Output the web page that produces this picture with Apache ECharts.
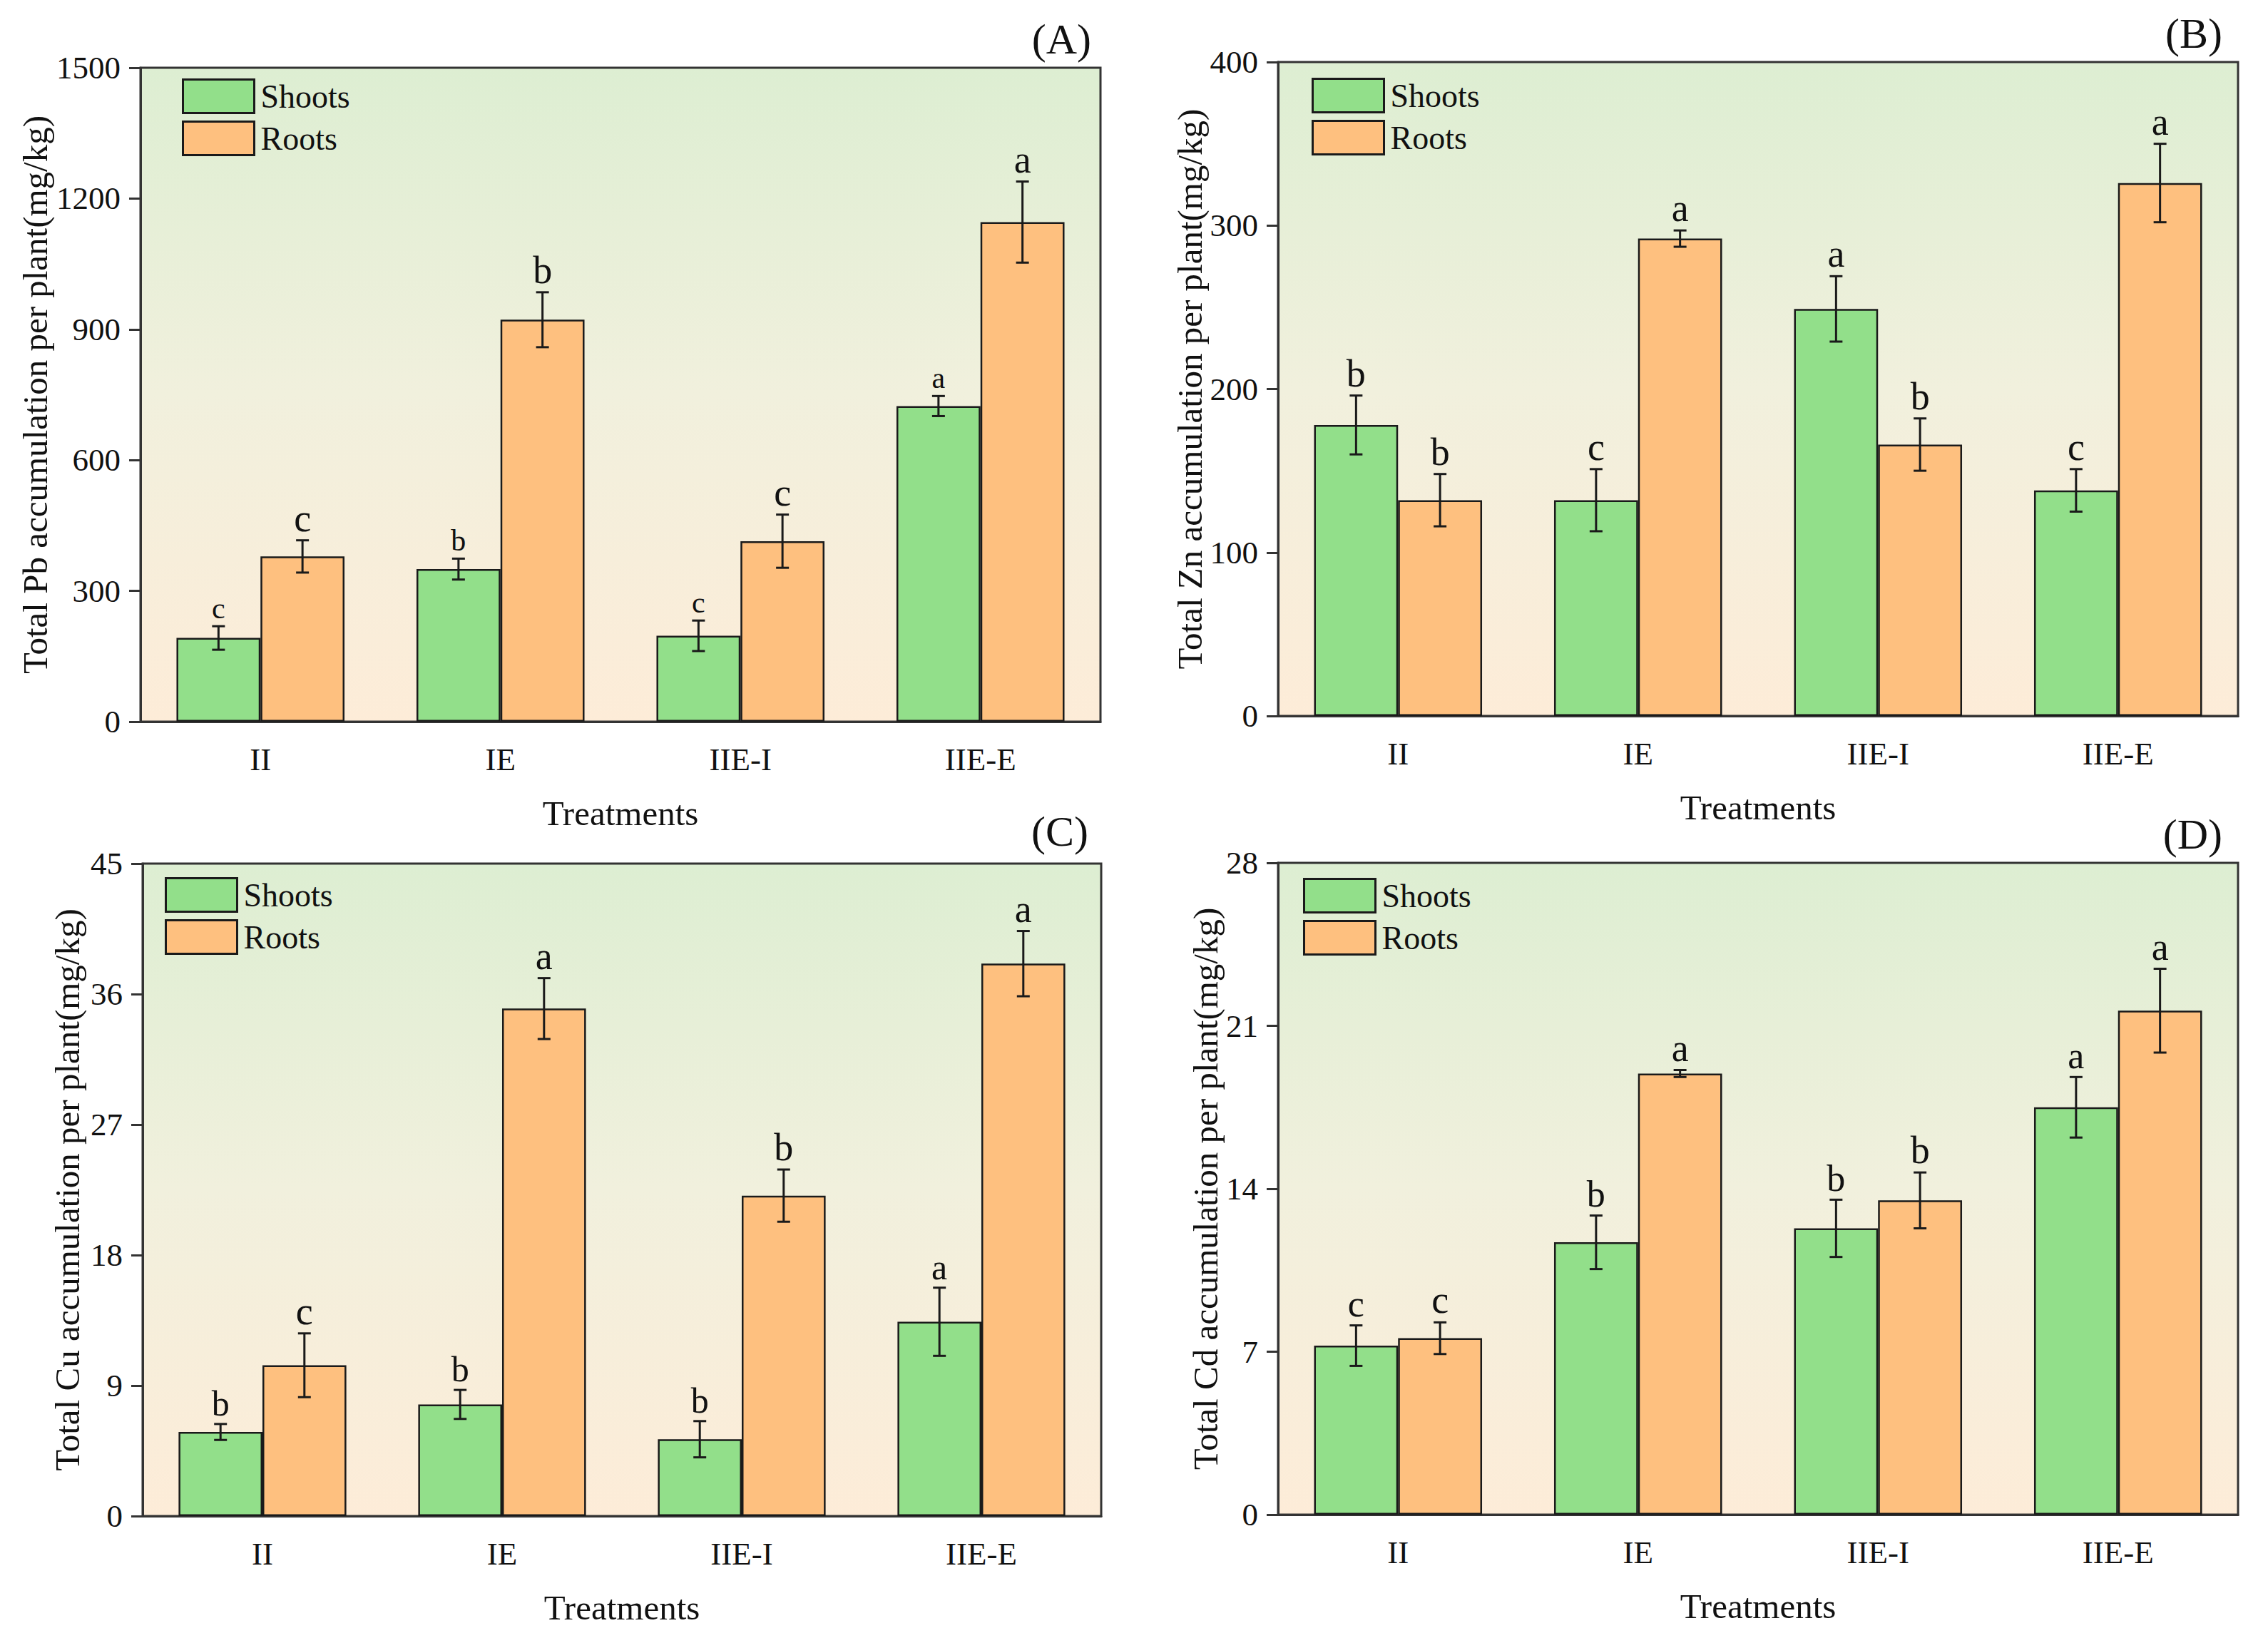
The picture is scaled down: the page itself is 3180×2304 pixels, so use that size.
<!DOCTYPE html>
<html>
<head>
<meta charset="utf-8">
<script src="https://cdn.jsdelivr.net/npm/echarts@6/dist/echarts.min.js"></script>
<style>
  html, body { margin: 0; padding: 0; background: #fff; }
  #chart { width: 3180px; height: 2304px; }
</style>
</head>
<body>
<div id="chart"></div>
<script>
var categories = ['II', 'IE', 'IIE-I', 'IIE-E'];

// (A) Pb
var pbShoots = [192, 350, 197, 724];
var pbShootsErr = [27, 24, 35, 23];
var pbShootsSig = ['c', 'b', 'c', 'a'];
var pbRoots = [379, 922, 414, 1146];
var pbRootsErr = [37, 63, 61, 93];
var pbRootsSig = ['c', 'b', 'c', 'a'];

// (B) Zn
var znShoots = [178, 132, 249, 138];
var znShootsErr = [18, 19, 20, 13];
var znShootsSig = ['b', 'c', 'a', 'c'];
var znRoots = [132, 292, 166, 326];
var znRootsErr = [16, 5, 16, 24];
var znRootsSig = ['b', 'a', 'b', 'a'];

// (C) Cu
var cuShoots = [5.8, 7.7, 5.3, 13.4];
var cuShootsErr = [0.55, 1.0, 1.25, 2.35];
var cuShootsSig = ['b', 'b', 'b', 'a'];
var cuRoots = [10.4, 35.0, 22.1, 38.1];
var cuRootsErr = [2.2, 2.1, 1.8, 2.25];
var cuRootsSig = ['c', 'a', 'b', 'a'];

// (D) Cd
var cdShoots = [7.26, 11.7, 12.3, 17.5];
var cdShootsErr = [0.87, 1.15, 1.23, 1.3];
var cdShootsSig = ['c', 'b', 'b', 'a'];
var cdRoots = [7.58, 18.95, 13.5, 21.65];
var cdRootsErr = [0.68, 0.15, 1.2, 1.8];
var cdRootsSig = ['c', 'a', 'b', 'a'];

var yNames = [
    'Total Pb accumulation per plant(mg/kg)',
    'Total Zn accumulation per plant(mg/kg)',
    'Total Cu accumulation per plant(mg/kg)',
    'Total Cd accumulation per plant(mg/kg)'
];
var yMax = [1500, 400, 45, 28];
var yStep = [300, 100, 9, 7];
var panelTags = ['(A)', '(B)', '(C)', '(D)'];

var FONT = "'Liberation Serif', 'Times New Roman', 'DejaVu Serif', serif";
var GREEN = '#92df8a';
var ORANGE = '#fec07f';

var panels = [
    {shoots: pbShoots, se: pbShootsErr, ss: pbShootsSig, roots: pbRoots, re: pbRootsErr, rs: pbRootsSig, shootFont: 42},
    {shoots: znShoots, se: znShootsErr, ss: znShootsSig, roots: znRoots, re: znRootsErr, rs: znRootsSig, shootFont: 54},
    {shoots: cuShoots, se: cuShootsErr, ss: cuShootsSig, roots: cuRoots, re: cuRootsErr, rs: cuRootsSig, shootFont: 50},
    {shoots: cdShoots, se: cdShootsErr, ss: cdShootsSig, roots: cdRoots, re: cdRootsErr, rs: cdRootsSig, shootFont: 52}
];

// plot rectangles: left, top, right, bottom (px)
var rects = [
    [197, 95, 1543, 1012],
    [1792, 87, 3138, 1004],
    [200, 1211, 1544, 2126],
    [1792, 1210, 3138, 2124]
];
var nameGaps = [123, 91, 81, 71];
var legendPos = [[250, 105], [1834, 104], [226, 1225], [1822, 1226]];
var tagPos = [[1530, 57], [3116, 49], [1526, 1168], [3116, 1172]];

function errRender(side, letters, fontSize) {
    return function (params, api) {
        var x = api.value(0), v = api.value(1), e = api.value(2);
        var c = api.coord([x, v]);
        var top = api.coord([x, v + e])[1];
        var bot = api.coord([x, v - e])[1];
        var bw = api.size([1, 0])[0];
        var cx = c[0] + side * bw * 0.175;
        var cap = 9;
        var st = {stroke: '#1a1a1a', lineWidth: 3};
        return {
            type: 'group',
            children: [
                {type: 'line', shape: {x1: cx, y1: top, x2: cx, y2: bot}, style: st},
                {type: 'line', shape: {x1: cx - cap, y1: top, x2: cx + cap, y2: top}, style: st},
                {type: 'line', shape: {x1: cx - cap, y1: bot, x2: cx + cap, y2: bot}, style: st},
                {type: 'text', style: {
                    text: letters[params.dataIndex], x: cx, y: top - 4,
                    align: 'center', verticalAlign: 'bottom',
                    fontFamily: FONT, fontSize: fontSize, fill: '#111'
                }}
            ]
        };
    };
}

var grids = [], xAxes = [], yAxes = [], series = [], legends = [], graphics = [];

panels.forEach(function (p, i) {
    var r = rects[i];
    grids.push({
        left: r[0], top: r[1], width: r[2] - r[0], height: r[3] - r[1],
        show: true,
        borderColor: '#333', borderWidth: 3,
        backgroundColor: {
            type: 'linear', x: 0, y: 0, x2: 0, y2: 1,
            colorStops: [
                {offset: 0, color: '#ddeed2'},
                {offset: 0.5, color: '#f1f0dd'},
                {offset: 1, color: '#fdecd8'}
            ]
        }
    });
    xAxes.push({
        gridIndex: i, type: 'category', data: categories,
        name: 'Treatments', nameLocation: 'middle', nameGap: 104,
        nameTextStyle: {fontFamily: FONT, fontSize: 49, color: '#111'},
        axisLine: {lineStyle: {color: '#333', width: 3}},
        axisTick: {alignWithLabel: true, length: 18, lineStyle: {color: '#333', width: 3}},
        axisLabel: {fontFamily: FONT, fontSize: 45, color: '#111', margin: 30}
    });
    yAxes.push({
        gridIndex: i, type: 'value', min: 0, max: yMax[i], interval: yStep[i],
        name: yNames[i], nameLocation: 'middle', nameGap: nameGaps[i],
        nameTextStyle: {fontFamily: FONT, fontSize: 49, color: '#111'},
        axisLine: {show: true, lineStyle: {color: '#333', width: 3}},
        axisTick: {show: true, length: 16, lineStyle: {color: '#333', width: 3}},
        axisLabel: {fontFamily: FONT, fontSize: 45, color: '#111', margin: 28,
            formatter: function (v) { return String(v); }},
        splitLine: {show: false}
    });
    series.push({
        name: 'Shoots', type: 'bar', xAxisIndex: i, yAxisIndex: i,
        data: p.shoots, barGap: 0, barCategoryGap: '30%',
        itemStyle: {color: GREEN, borderColor: '#1a1a1a', borderWidth: 2.5}
    });
    series.push({
        name: 'Roots', type: 'bar', xAxisIndex: i, yAxisIndex: i,
        data: p.roots, barGap: 0, barCategoryGap: '30%',
        itemStyle: {color: ORANGE, borderColor: '#1a1a1a', borderWidth: 2.5}
    });
    series.push({
        type: 'custom', xAxisIndex: i, yAxisIndex: i, z: 5,
        renderItem: errRender(-1, p.ss, p.shootFont),
        data: p.shoots.map(function (v, k) { return [k, v, p.se[k]]; })
    });
    series.push({
        type: 'custom', xAxisIndex: i, yAxisIndex: i, z: 5,
        renderItem: errRender(1, p.rs, 54),
        data: p.roots.map(function (v, k) { return [k, v, p.re[k]]; })
    });
    legends.push({
        data: ['Shoots', 'Roots'], orient: 'vertical',
        left: legendPos[i][0], top: legendPos[i][1],
        itemWidth: 100, itemHeight: 47, itemGap: 9,
        icon: 'rect',
        itemStyle: {borderColor: '#1a1a1a', borderWidth: 3},
        textStyle: {fontFamily: FONT, fontSize: 46, color: '#111', padding: [0, 0, 0, 4]}
    });
    graphics.push({
        type: 'text', right: 3180 - tagPos[i][0], top: tagPos[i][1] - 32,
        style: {text: panelTags[i], fontFamily: FONT, fontSize: 60, fill: '#111'}
    });
});

var chart = echarts.init(document.getElementById('chart'), null, {renderer: 'svg'});
chart.setOption({
    animation: false,
    backgroundColor: '#fff',
    grid: grids,
    xAxis: xAxes,
    yAxis: yAxes,
    legend: legends,
    series: series,
    graphic: graphics
});
</script>
</body>
</html>
